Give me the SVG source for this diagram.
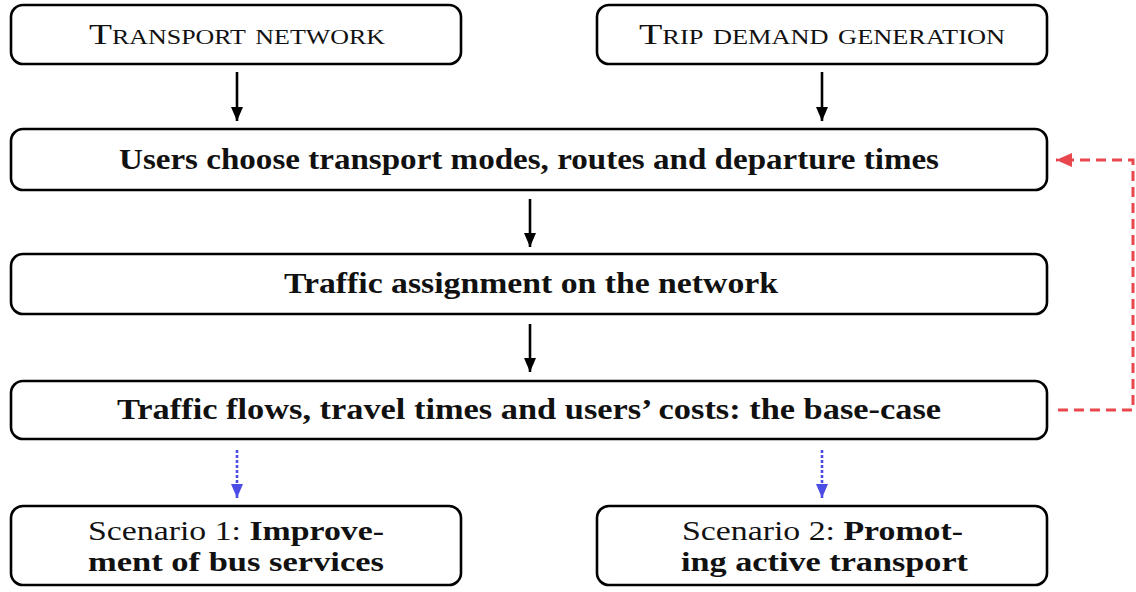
<svg xmlns="http://www.w3.org/2000/svg" width="1136" height="592" viewBox="0 0 1136 592">
<style>
.box{fill:#fff;stroke:#000;stroke-width:2.6}
.t{font-family:"Liberation Serif","DejaVu Serif",serif;font-size:30px;fill:#111}
.s{font-size:29px}
.sn{font-size:27px}
.b{font-weight:bold}
.sc{font-variant:small-caps}
.c{text-anchor:middle}
.arr{stroke:#000;stroke-width:2.6;fill:none}
.red{stroke:#e9474e;stroke-width:3;fill:none;stroke-dasharray:10 6}
.blue{stroke:#4b4be6;stroke-width:2.6;fill:none;stroke-dasharray:3 2}
</style>
<defs>
<marker id="ah" markerUnits="userSpaceOnUse" markerWidth="14" markerHeight="12" refX="14" refY="6" orient="auto"><path d="M0,0 L14,6 L0,12 z" fill="#000"/></marker>
<marker id="ahr" markerUnits="userSpaceOnUse" markerWidth="16" markerHeight="14" refX="16" refY="7" orient="auto"><path d="M0,0 L16,7 L0,14 z" fill="#e9474e"/></marker>
<marker id="ahb" markerUnits="userSpaceOnUse" markerWidth="14" markerHeight="12" refX="14" refY="6" orient="auto"><path d="M0,0 L14,6 L0,12 z" fill="#4b4be6"/></marker>
</defs>
<g id="connectors">
<line class="arr" x1="237" y1="72" x2="237" y2="121" marker-end="url(#ah)"/>
<line class="arr" x1="822" y1="72" x2="822" y2="121" marker-end="url(#ah)"/>
<line class="arr" x1="530" y1="199" x2="530" y2="247" marker-end="url(#ah)"/>
<line class="arr" x1="530" y1="324" x2="530" y2="372" marker-end="url(#ah)"/>
<path class="red" d="M1058,410 H1133 V160 H1056" marker-end="url(#ahr)"/>
<line class="blue" x1="237" y1="450" x2="237" y2="498" marker-end="url(#ahb)"/>
<line class="blue" x1="822" y1="450" x2="822" y2="498" marker-end="url(#ahb)"/>
</g>
<g id="transport-network">
<rect class="box" x="11" y="5" width="450" height="59" rx="12"/>
<text class="t s sc c" x="237" y="44" textLength="296" lengthAdjust="spacingAndGlyphs">Transport network</text>
</g>
<g id="trip-demand">
<rect class="box" x="597" y="5" width="450" height="59" rx="12"/>
<text class="t s sc c" x="822" y="44" textLength="366" lengthAdjust="spacingAndGlyphs">Trip demand generation</text>
</g>
<g id="users-choose">
<rect class="box" x="11" y="129" width="1036" height="61" rx="12"/>
<text class="t b c" x="529" y="169" textLength="820" lengthAdjust="spacingAndGlyphs">Users choose transport modes, routes and departure times</text>
</g>
<g id="traffic-assignment">
<rect class="box" x="11" y="254" width="1036" height="60" rx="12"/>
<text class="t b c" x="531" y="293" textLength="494" lengthAdjust="spacingAndGlyphs">Traffic assignment on the network</text>
</g>
<g id="base-case">
<rect class="box" x="11" y="381" width="1036" height="58" rx="12"/>
<text class="t b c" x="529" y="419" textLength="824" lengthAdjust="spacingAndGlyphs">Traffic flows, travel times and users’ costs: the base-case</text>
</g>
<g id="scenario-1">
<rect class="box" x="11" y="506" width="450" height="79" rx="12"/>
<text class="t sn" x="88" y="540" textLength="296" lengthAdjust="spacingAndGlyphs">Scenario 1: <tspan class="b">Improve-</tspan></text>
<text class="t sn b" x="88" y="571" textLength="296" lengthAdjust="spacingAndGlyphs">ment of bus services</text>
</g>
<g id="scenario-2">
<rect class="box" x="597" y="506" width="450" height="79" rx="12"/>
<text class="t sn" x="682" y="540" textLength="281" lengthAdjust="spacingAndGlyphs">Scenario 2: <tspan class="b">Promot-</tspan></text>
<text class="t sn b" x="681" y="571" textLength="287" lengthAdjust="spacingAndGlyphs">ing active transport</text>
</g>
</svg>
